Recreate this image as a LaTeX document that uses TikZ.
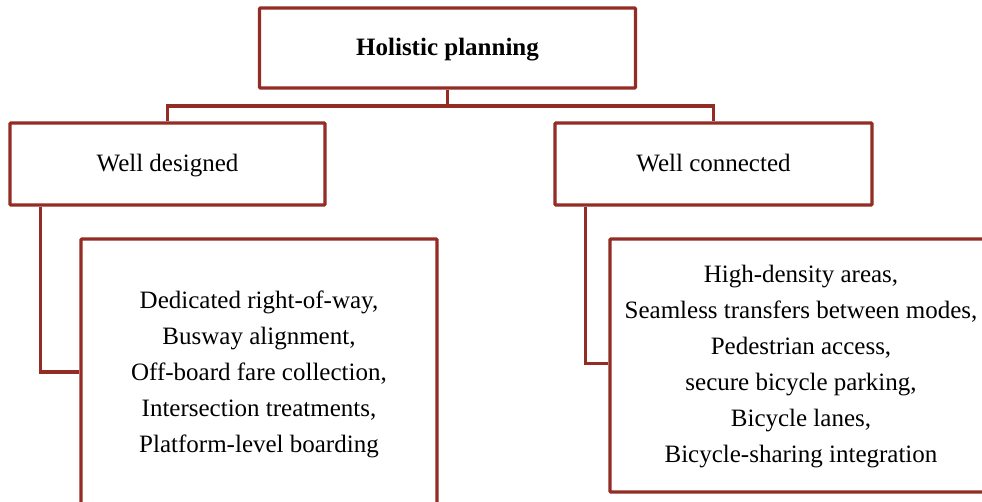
\documentclass[tikz,border=0pt]{standalone}
\usepackage{fontspec}
\setmainfont{Liberation Serif}
\definecolor{boxred}{RGB}{146,44,36}
\begin{document}
\begin{tikzpicture}[x=1pt,y=-1pt,
  box/.style={draw=boxred,line width=3.2pt,fill=white,inner sep=0pt,rounded corners=0.8pt},
  txt/.style={inner sep=0pt,align=center,font=\fontsize{25}{36}\selectfont},
  link/.style={draw=boxred,line width=3.2pt}]
\useasboundingbox (0,0) rectangle (982,501);
\coordinate (bar) at (447.5,106);
\node[box,minimum width=376,minimum height=80] (hp) at (447.5,48) {};
\node[box,minimum width=315,minimum height=82] (wd) at (167.5,164) {};
\node[box,minimum width=317,minimum height=82] (wc) at (713.5,164) {};
\node[box,minimum width=356,minimum height=266] (lb) at (259,372) {};
\node[box,minimum width=382,minimum height=253] (rb) at (801,365.5) {};
\node[txt,anchor=base] (hpt) at (447.5,55) {\textbf{Holistic planning}};
\node[txt,anchor=base] (wdt) at (167.5,171.5) {Well designed};
\node[txt,anchor=base] (wct) at (713.5,171.5) {Well connected};
\node[txt] (lbt) at ([yshift=-2.5pt]lb.center)
  {Dedicated right-of-way,\\Busway alignment,\\Off-board fare collection,\\Intersection treatments,\\Platform-level boarding};
\node[txt] (rbt) at ([yshift=-1.5pt]rb.center)
  {High-density areas,\\Seamless transfers between modes,\\Pedestrian access,\\secure bicycle parking,\\Bicycle lanes,\\Bicycle-sharing integration};
\draw[link] (hp.south) -- (bar);
\draw[link] (wd.north) |- (bar) -| (wc.north);
\draw[link] ([xshift=32pt]wd.south west) |- (lb.west);
\draw[link] ([xshift=32pt]wc.south west) |- ([yshift=2pt]rb.west);
\end{tikzpicture}
\end{document}
